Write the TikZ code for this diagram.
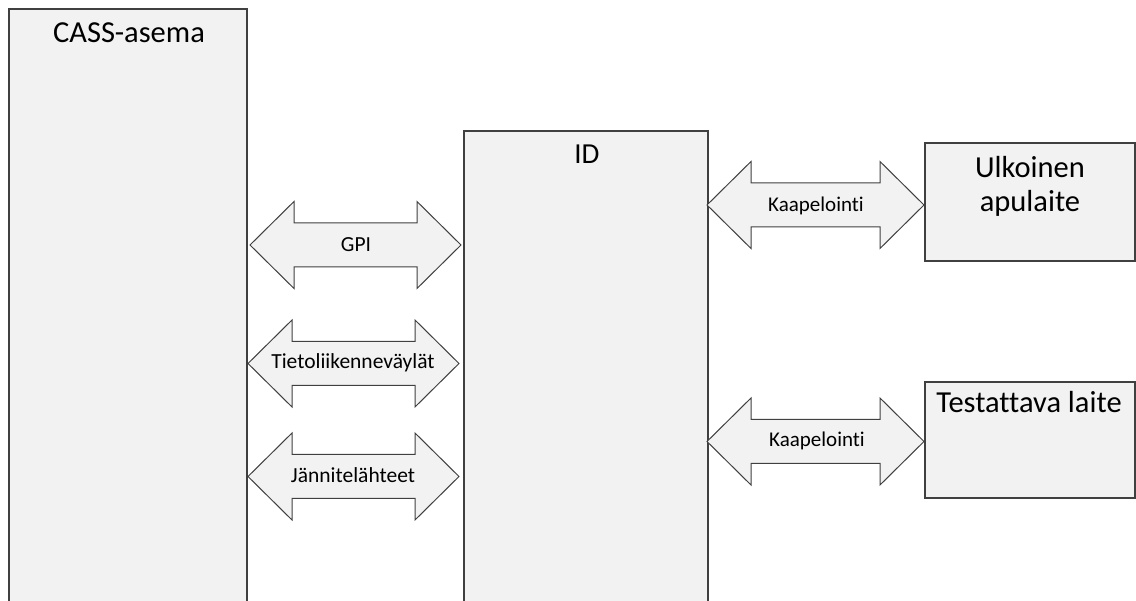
\documentclass[tikz,border=0pt]{standalone}
\usepackage{fontspec}
\setmainfont{Carlito}[Ligatures=NoCommon]
\definecolor{panel}{HTML}{F2F2F2}
\definecolor{edge}{HTML}{404040}

% double-headed block arrow: left tip x, right tip x, centre y
\newcommand\twoway[3]{%
  \draw[link] (#1,#3) -- (#1+44,#3-43.5) -- (#1+44,#3-22) -- (#2-44,#3-22)
    -- (#2-44,#3-43.5) -- (#2,#3) -- (#2-44,#3+43.5) -- (#2-44,#3+22)
    -- (#1+44,#3+22) -- (#1+44,#3+43.5) -- cycle;}

\tikzset{
  block/.style={draw=edge, fill=panel, line width=1.3pt, rectangle,
    anchor=north west, inner sep=0pt, outer sep=0pt},
  link/.style={draw=edge, fill=panel, line width=1pt, line join=miter},
  title/.style={anchor=base, inner sep=0pt, text=black,
    font=\fontsize{30.5}{34}\selectfont},
  tag/.style={anchor=base, inner sep=0pt, text=black,
    font=\fontsize{21.5}{24}\selectfont},
  smalltag/.style={tag, font=\fontsize{21}{24}\selectfont},
}

\begin{document}
\begin{tikzpicture}[x=1pt, y=-1pt]
  \useasboundingbox (0,0) rectangle (1136,601);
  \clip (0,0) rectangle (1136,601);
  \fill[white] (0,0) rectangle (1136,601);

  % main blocks
  \node[block, minimum width=238pt, minimum height=640pt] (cass) at (9,9) {};
  \node[block, minimum width=244pt, minimum height=520pt] (id) at (464,131) {};
  \node[block, minimum width=210pt, minimum height=118pt] (ulk) at (925,143) {};
  \node[block, minimum width=210pt, minimum height=116pt] (dut) at (925,382) {};

  % block titles
  \node[title] (cassname) at (129,43) {CASS-asema};
  \node[title, font=\fontsize{29}{32}\selectfont] (idname) at (587,164) {ID};
  \node[title] (ulkname1) at (1030,178) {Ulkoinen};
  \node[title] (ulkname2) at (1030,212) {apulaite};
  \node[title] (dutname) at (1029,413) {Testattava laite};

  % links between CASS and ID
  \twoway{250}{461}{245}
  \node[tag] (gpi) at (356,252) {GPI};
  \twoway{248}{459}{363.5}
  \node[tag] (bus) at (353,369) {Tietoliikenneväylät};
  \twoway{248}{459}{476.5}
  \node[tag] (power) at (353,483) {Jännitelähteet};

  % cabling from ID to the outer devices
  \twoway{707}{924}{205}
  \node[smalltag] (cable1) at (816,212) {Kaapelointi};
  \twoway{707}{924}{441.5}
  \node[smalltag] (cable2) at (817,447) {Kaapelointi};
\end{tikzpicture}
\end{document}
